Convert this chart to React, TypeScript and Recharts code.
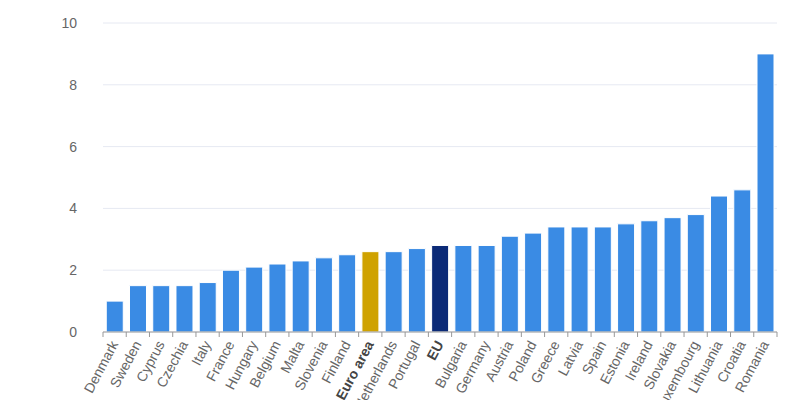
import { Bar, BarChart, CartesianGrid, Cell, XAxis, YAxis } from "recharts";

const countries = [
  "Denmark", "Sweden", "Cyprus", "Czechia", "Italy", "France", "Hungary", "Belgium", "Malta", "Slovenia",
  "Finland", "Euro area", "Netherlands", "Portugal", "EU", "Bulgaria", "Germany", "Austria", "Poland", "Greece",
  "Latvia", "Spain", "Estonia", "Ireland", "Slovakia", "Luxembourg", "Lithuania", "Croatia", "Romania",
];
const values = [
  1.0, 1.5, 1.5, 1.5, 1.6, 2.0, 2.1, 2.2, 2.3, 2.4,
  2.5, 2.6, 2.6, 2.7, 2.8, 2.8, 2.8, 3.1, 3.2, 3.4,
  3.4, 3.4, 3.5, 3.6, 3.7, 3.8, 4.4, 4.6, 9.0,
];
const yTicks = [0, 2, 4, 6, 8, 10];
const highlight: Record<string, string> = { "Euro area": "#cfa200", EU: "#0b2a77" };

const data = countries.map((name, i) => ({ name, value: values[i] }));

const font = "'Liberation Sans', Arial, sans-serif";

function CountryTick(props: any) {
  const { x, y, payload, index, visibleTicksCount, width } = props;
  const band = 674 / countries.length;
  const bold = payload.value in highlight;
  return (
    <g>
      <line x1={x - band / 2} x2={x - band / 2} y1={y - 8} y2={y - 3} stroke="#999" />
      {index === countries.length - 1 && (
        <line x1={x + band / 2} x2={x + band / 2} y1={y - 8} y2={y - 3} stroke="#999" />
      )}
      <text
        x={x + 4}
        y={y + 4}
        textAnchor="end"
        transform={`rotate(-62 ${x + 4} ${y + 4})`}
        fontSize={14}
        fontFamily={font}
        fontWeight={bold ? "bold" : "normal"}
        fill={bold ? "#444" : "#666"}
      >
        {payload.value}
      </text>
    </g>
  );
}

export default function App() {
  return (
    <BarChart
      width={792}
      height={392}
      data={data}
      margin={{ top: 15, right: 23, bottom: 0, left: 0 }}
      barCategoryGap="14%"
    >
      <CartesianGrid vertical={false} stroke="#e6e9f2" />
      <XAxis
        dataKey="name"
        interval={0}
        height={68}
        stroke="#999"
        tickLine={false}
        tick={<CountryTick />}
      />
      <YAxis
        width={95}
        domain={[0, 10]}
        ticks={yTicks}
        axisLine={false}
        tickLine={false}
        tickMargin={20}
        tick={{ fill: "#666", fontSize: 14, fontFamily: font }}
      />
      <Bar dataKey="value" fill="#3a8be4" stroke="#ffffff" strokeWidth={1} isAnimationActive={false}>
        {data.map((d) => (
          <Cell key={d.name} fill={highlight[d.name] ?? "#3a8be4"} />
        ))}
      </Bar>
    </BarChart>
  );
}
